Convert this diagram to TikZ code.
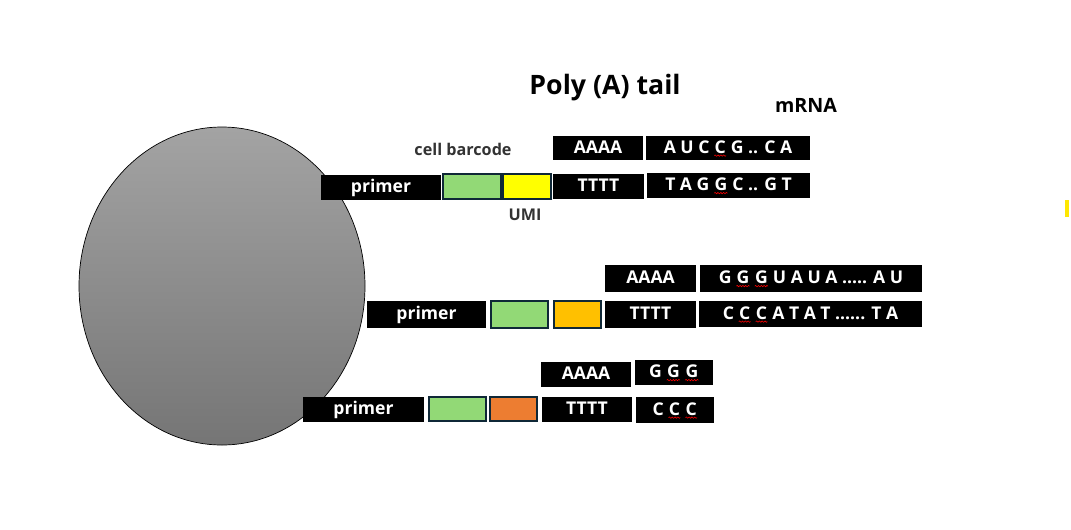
\documentclass[tikz,border=0pt]{standalone}
\usepackage{fontspec}
\setmainfont{Open Sans}
\usetikzlibrary{positioning,decorations.pathmorphing}
\definecolor{bcgreen}{RGB}{146,217,118}
\definecolor{umiyellow}{RGB}{255,255,0}
\definecolor{umigold}{RGB}{255,192,0}
\definecolor{umiorange}{RGB}{237,125,49}
\definecolor{edgenavy}{RGB}{15,40,55}
\definecolor{lblgray}{RGB}{51,51,51}
\tikzset{
  px/.style 2 args={minimum width=#1*0.025cm,minimum height=#2*0.025cm},
  blk/.style={fill=black,text=white,font=\bfseries\fontsize{12.5}{14}\selectfont,
    inner sep=0pt,text height=1.6ex,text depth=0.25ex},
  tagbox/.style={draw=edgenavy,line width=1.2pt,inner sep=0pt},
  lbl/.style={font=\bfseries\fontsize{11.5}{13}\selectfont,text=lblgray}
}
% red spell-check squiggle under a letter
\newcommand{\wv}[1]{\tikz[baseline=(w.base)]{\node[inner sep=0pt,minimum size=0pt,
    text height=,text depth=,fill=none,draw=none,text=white] (w) {#1};
  \draw[red,line width=0.4pt,decorate,decoration={snake,amplitude=0.5pt,segment length=2pt}]
    ([yshift=-1.8pt]w.base west) -- ([yshift=-1.8pt]w.base east);}}

\begin{document}
\begin{tikzpicture}[x=0.025cm,y=-0.025cm]
  \useasboundingbox (0,0) rectangle (1071,529);
  % Cell (bead)
  \shade[top color=black!36,bottom color=black!54,draw=black,line width=0.5pt]
    (222,286) ellipse [x radius=143, y radius=159];

  % Titles
  \node[font=\bfseries\fontsize{19}{21}\selectfont] (title) at (605,88) {Poly (A) tail};
  \node[font=\bfseries\fontsize{14}{16}\selectfont] (mrna) at (806,105) {mRNA};

  % Row 1
  \node[blk,px={90}{24}] (polyA1) at (598,148) {AAAA};
  \node[blk,px={164}{24}] (seqA1) at (728,148) {A U C \wv{C} G .. C A};
  \node[blk,px={120}{25}] (primer1) at (381,187.5) {primer};
  \node[tagbox,fill=bcgreen,px={58}{25}] (bc1) at (472,186.5) {};
  \node[tagbox,fill=umiyellow,px={48}{25}] (umi1) at (527,186.5) {};
  \node[blk,px={91}{25}] (polyT1) at (598.5,186.5) {TTTT};
  \node[blk,px={163}{25}] (seqT1) at (728.5,185.5) {T A G \wv{G} C .. G T};
  \node[lbl] (bclabel) at (463,149) {cell barcode};
  \node[lbl] (umilabel) at (525,215) {UMI};

  % Row 2
  \node[blk,px={91}{27}] (polyA2) at (650.5,278.5) {AAAA};
  \node[blk,px={222}{27}] (seqA2) at (811,278.5) {G \wv{G} \wv{G} U A U A ..... A U};
  \node[blk,px={119}{27}] (primer2) at (426.5,314.5) {primer};
  \node[tagbox,fill=bcgreen,px={57}{27}] (bc2) at (519.5,314.5) {};
  \node[tagbox,fill=umigold,px={47}{27}] (umi2) at (577.5,314.5) {};
  \node[blk,px={91}{27}] (polyT2) at (650.5,314.5) {TTTT};
  \node[blk,px={223}{26}] (seqT2) at (810.5,314) {C \wv{C} \wv{C} A T A T ...... T A};

  % Row 3
  \node[blk,px={90}{25}] (polyA3) at (586,374.5) {AAAA};
  \node[blk,px={78}{25}] (seqA3) at (674,372.5) {G \wv{G} \wv{G}};
  \node[blk,px={121}{25}] (primer3) at (363.5,409.5) {primer};
  \node[tagbox,fill=bcgreen,px={57}{24}] (bc3) at (457.5,409) {};
  \node[tagbox,fill=umiorange,px={47}{24}] (umi3) at (513.5,409) {};
  \node[blk,px={90}{25}] (polyT3) at (587,409.5) {TTTT};
  \node[blk,px={78}{26}] (seqT3) at (675,410) {C \wv{C} \wv{C}};

  % stray mark at right edge
  \fill[yellow!90!orange] (1065,200) rectangle (1069,217);
\end{tikzpicture}
\end{document}
